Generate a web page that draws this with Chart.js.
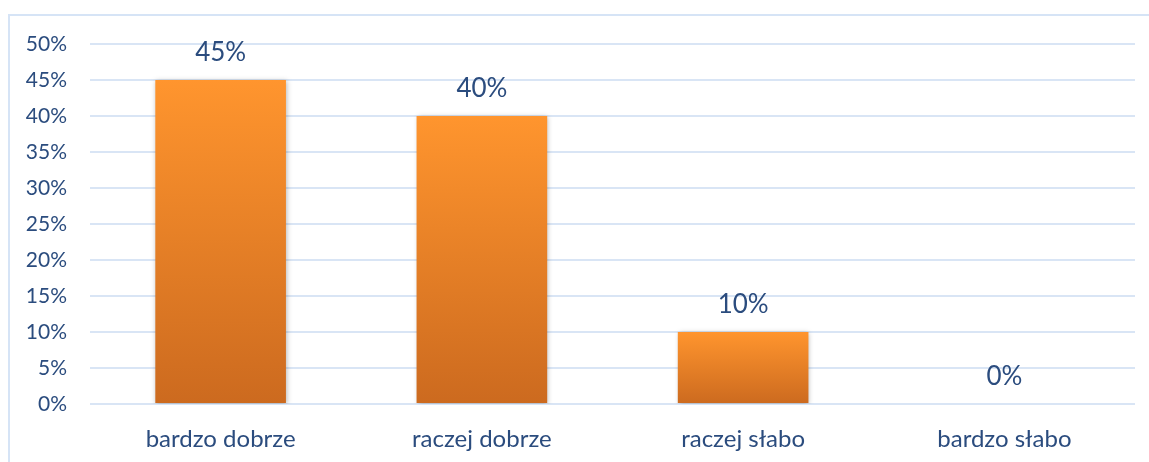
<!DOCTYPE html>
<html>
<head>
<meta charset="utf-8">
<script src="https://cdn.jsdelivr.net/npm/chart.js@4"></script>
<style>
  html, body { margin: 0; padding: 0; background: #fff; }
  #wrap { width: 1149px; height: 462px; position: relative; }
</style>
</head>
<body>
<div id="wrap"><canvas id="chart1"></canvas></div>
<script>
var categories = ["bardzo dobrze", "raczej dobrze", "raczej słabo", "bardzo słabo"];
var percents = [45, 40, 10, 0];
var yTicks = [0, 5, 10, 15, 20, 25, 30, 35, 40, 45, 50];

var textColor = "#2b4c7e";
var fontFamily = "Lato, 'Open Sans', sans-serif";

function barGradient(context) {
    var chart = context.chart;
    var area = chart.chartArea;
    if (!area) return "#f7902c";
    var yScale = chart.scales.y;
    var top = yScale.getPixelForValue(context.raw);
    var bottom = yScale.getPixelForValue(0);
    if (bottom - top < 1) return "#f7902c";
    var g = chart.ctx.createLinearGradient(0, top, 0, bottom);
    g.addColorStop(0, "#ff952e");
    g.addColorStop(1, "#cc6a1f");
    return g;
}

// frame, bar shadows and value labels
var extras = {
    id: "extras",
    beforeDraw: function (chart) {
        var c = chart.ctx;
        c.save();
        c.strokeStyle = "#d6e4f6";
        c.lineWidth = 2;
        c.strokeRect(9, 15, 1160, 470);
        c.restore();
    },
    beforeDatasetsDraw: function (chart) {
        var c = chart.ctx;
        c.save();
        c.shadowColor = "rgba(0,0,0,0.28)";
        c.shadowBlur = 5;
        c.shadowOffsetX = 1;
        c.shadowOffsetY = 1;
    },
    afterDatasetsDraw: function (chart) {
        var c = chart.ctx;
        c.restore();
        c.save();
        c.fillStyle = textColor;
        c.font = "26px " + fontFamily;
        c.textAlign = "center";
        c.textBaseline = "middle";
        chart.getDatasetMeta(0).data.forEach(function (bar, i) {
            c.fillText(percents[i] + "%", bar.x, bar.y - 27);
        });
        c.restore();
    }
};

var ctx = document.getElementById("chart1").getContext("2d");
var chart1 = new Chart(ctx, {
    type: "bar",
    data: {
        labels: categories,
        datasets: [{
            data: percents,
            backgroundColor: barGradient,
            borderWidth: 0,
            categoryPercentage: 1.0,
            barPercentage: 0.5
        }]
    },
    options: {
        responsive: true,
        maintainAspectRatio: false,
        animation: false,
        layout: { padding: { left: 0, top: 44, right: 14, bottom: 0 } },
        plugins: {
            legend: { display: false },
            tooltip: { enabled: false }
        },
        scales: {
            x: {
                grid: { display: false, drawTicks: false },
                border: { display: false },
                ticks: {
                    color: textColor,
                    font: { family: fontFamily, size: 24 },
                    padding: 21
                },
                afterFit: function (s) { s.height = 58; }
            },
            y: {
                min: 0,
                max: 50,
                afterBuildTicks: function (s) {
                    s.ticks = yTicks.map(function (v) { return { value: v }; });
                },
                grid: { color: "#d9e5f5", lineWidth: 2, drawTicks: false },
                border: { display: false },
                ticks: {
                    color: textColor,
                    font: { family: fontFamily, size: 21 },
                    padding: 23,
                    callback: function (v) { return v + "%"; }
                },
                afterFit: function (s) { s.width = 90; }
            }
        }
    },
    plugins: [extras]
});
</script>
</body>
</html>
